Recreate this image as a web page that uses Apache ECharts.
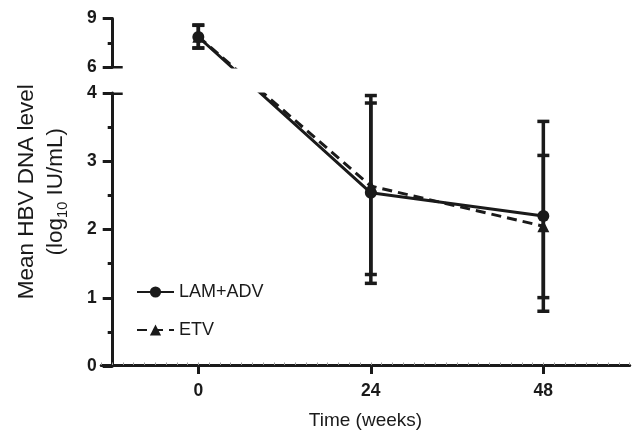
<!DOCTYPE html>
<html>
<head>
<meta charset="utf-8">
<script src="https://cdn.jsdelivr.net/npm/echarts@6/dist/echarts.min.js"></script>
<style>
  html, body { margin: 0; padding: 0; background: #fff; }
  #main { width: 632px; height: 435px; }
</style>
</head>
<body>
<div id="main"></div>
<script>
// data
var weeks = [0, 24, 48];
var lamMean = [7.86, 2.53, 2.19];
var lamLow  = [7.18, 1.20, 0.79];
var lamHigh = [8.58, 3.85, 3.58];
var etvMean = [7.88, 2.63, 2.04];
var etvLow  = [7.18, 1.33, 0.99];
var etvHigh = [8.60, 3.96, 3.08];
var xTicks = [0, 24, 48];

// broken y axis: 0-4 below, 6-9 squeezed above
var LOW_MAX = 4, HIGH_MIN = 6, GAP = 0.377, K = 0.2384;
function disp(v) {
    return v <= LOW_MAX ? v : LOW_MAX + GAP + (v - HIGH_MIN) * K;
}

var FONT = 'Liberation Sans, Arial, Helvetica, sans-serif';
var INK = '#1a1a1a';

function pts(means) {
    return weeks.map(function (w, i) { return [w, disp(means[i])]; });
}
function bars(lows, highs) {
    return weeks.map(function (w, i) { return [w, disp(lows[i]), disp(highs[i])]; });
}

function errorBar(params, api) {
    var x = api.value(0);
    var lo = api.coord([x, api.value(1)]);
    var hi = api.coord([x, api.value(2)]);
    var half = 6;
    var st = { stroke: INK, lineWidth: 3.5 };
    return {
        type: 'group',
        children: [
            { type: 'line', shape: { x1: lo[0], y1: lo[1], x2: hi[0], y2: hi[1] }, style: st },
            { type: 'line', shape: { x1: lo[0] - half, y1: lo[1], x2: lo[0] + half, y2: lo[1] }, style: st },
            { type: 'line', shape: { x1: hi[0] - half, y1: hi[1], x2: hi[0] + half, y2: hi[1] }, style: st }
        ]
    };
}

var axisLbl = { color: INK, fontSize: 17.5, fontWeight: 'bold', fontFamily: FONT, margin: 16 };

var myChart = echarts.init(document.getElementById('main'));
myChart.setOption({
    animation: false,
    grid: [
        { left: 101.3, right: 2.4, top: 18.5, bottom: 69 },     // data
        { left: 112.7, width: 10, top: 18.5, height: 48.8 },   // upper y segment
        { left: 112.7, width: 10, top: 93, height: 273 }       // lower y segment
    ],
    xAxis: [
        {
            gridIndex: 0, type: 'value', min: -13.5, max: 60,
            name: 'Time (weeks)', nameLocation: 'middle', nameGap: 46,
            nameTextStyle: { color: INK, fontSize: 19, fontFamily: FONT },
            splitLine: { show: false },
            axisLine: { lineStyle: { color: INK, width: 3.2 } },
            axisTick: { customValues: xTicks, length: 9, lineStyle: { color: INK, width: 3 } },
            axisLabel: { customValues: xTicks, color: INK, fontSize: 17.5, fontWeight: 'bold', fontFamily: FONT, margin: 17 }
        },
        {
            // faint minor ticks along the x axis
            gridIndex: 0, type: 'value', position: 'bottom', min: -13.5, max: 60, interval: 1.5,
            splitLine: { show: false }, axisLine: { show: false }, axisLabel: { show: false },
            axisTick: { inside: true, length: 2.5, lineStyle: { color: '#999', width: 1 } }
        },
        { gridIndex: 1, type: 'value', show: false },
        { gridIndex: 2, type: 'value', show: false }
    ],
    yAxis: [
        {
            gridIndex: 0, type: 'value', min: 0, max: disp(9),
            name: 'Mean HBV DNA level\n(log{sub|10} IU/mL)',
            nameLocation: 'middle', nameGap: 31,
            nameTextStyle: {
                color: INK, fontSize: 22.5, fontFamily: FONT, lineHeight: 29,
                rich: { sub: { fontSize: 14.5, fontFamily: FONT, color: INK, verticalAlign: 'bottom', padding: [10, 0, 0, 0] } }
            },
            splitLine: { show: false }, axisLine: { show: false },
            axisTick: { show: false }, axisLabel: { show: false }
        },
        {
            gridIndex: 1, type: 'value', min: 6, max: 9, interval: 3,
            splitLine: { show: false },
            axisLine: { lineStyle: { color: INK, width: 3 } },
            axisTick: { length: 10, lineStyle: { color: INK, width: 3 } },
            minorTick: { show: true, splitNumber: 2, length: 5, lineStyle: { color: INK, width: 3 } },
            axisLabel: axisLbl
        },
        {
            gridIndex: 2, type: 'value', min: 0, max: 4, interval: 1,
            splitLine: { show: false },
            axisLine: { lineStyle: { color: INK, width: 3 } },
            axisTick: { length: 10, lineStyle: { color: INK, width: 3 } },
            minorTick: { show: true, splitNumber: 2, length: 5, lineStyle: { color: INK, width: 3 } },
            axisLabel: axisLbl
        },
        {
            // break caps poking right of the axis
            gridIndex: 1, type: 'value', min: 6, max: 9,
            splitLine: { show: false }, axisLine: { show: false }, axisLabel: { show: false },
            axisTick: { inside: true, customValues: [6], length: 9, lineStyle: { color: INK, width: 3 } }
        },
        {
            gridIndex: 2, type: 'value', min: 0, max: 4,
            splitLine: { show: false }, axisLine: { show: false }, axisLabel: { show: false },
            axisTick: { inside: true, customValues: [4], length: 9, lineStyle: { color: INK, width: 3 } }
        }
    ],
    legend: {
        orient: 'vertical', left: 136, top: 282, padding: 0,
        itemWidth: 37, itemHeight: 14, itemGap: 18,
        textStyle: { color: INK, fontSize: 18, fontFamily: FONT, lineHeight: 20 },
        data: ['LAM+ADV', 'ETV']
    },
    series: [
        {
            name: 'LAM+ADV err', type: 'custom', xAxisIndex: 0, yAxisIndex: 0,
            renderItem: errorBar, data: bars(lamLow, lamHigh), z: 2
        },
        {
            name: 'ETV err', type: 'custom', xAxisIndex: 0, yAxisIndex: 0,
            renderItem: errorBar, data: bars(etvLow, etvHigh), z: 2
        },
        {
            name: 'LAM+ADV', type: 'line', xAxisIndex: 0, yAxisIndex: 0,
            data: pts(lamMean), symbol: 'circle', symbolSize: 12,
            lineStyle: { color: INK, width: 3 }, itemStyle: { color: INK }, z: 3
        },
        {
            name: 'ETV', type: 'line', xAxisIndex: 0, yAxisIndex: 0,
            data: pts(etvMean), symbol: 'triangle', symbolSize: 12,
            lineStyle: { color: INK, width: 3, type: [10, 6] }, itemStyle: { color: INK }, z: 3
        }
    ],
    graphic: [
        {
            // white strip hides the connecting lines inside the axis break
            type: 'rect', z: 10,
            shape: { x: 114, y: 68.5, width: 516, height: 24 },
            style: { fill: '#fff' }
        }
    ]
});
</script>
</body>
</html>
